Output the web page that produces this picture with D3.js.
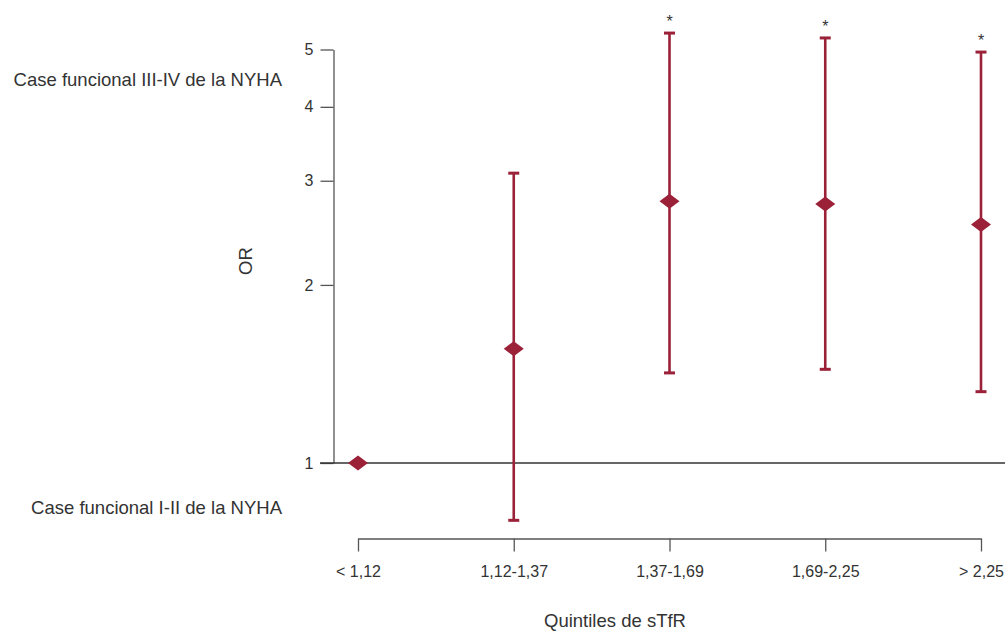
<!DOCTYPE html>
<html>
<head>
<meta charset="utf-8">
<script src="https://cdn.jsdelivr.net/npm/d3@7"></script>
<style>
  body { margin: 0; background: #fff; }
  text { font-family: "Liberation Sans", Arial, sans-serif; fill: #333; }
</style>
</head>
<body>
<div id="chart"></div>
<script>
// data
const quintiles = ["< 1,12", "1,12-1,37", "1,37-1,69", "1,69-2,25", "> 2,25"];
const orValues = [1, 1.56, 2.77, 2.74, 2.53];
const ciLow = [null, 0.80, 1.42, 1.44, 1.32];
const ciHigh = [null, 3.09, 5.33, 5.23, 4.95];
const significant = [false, false, true, true, true];
const yTicks = [1, 2, 3, 4, 5];

const width = 1005, height = 632;
const red = "#9b2139";
const axisColor = "#555";

const svg = d3.select("#chart").append("svg")
  .attr("width", width)
  .attr("height", height);

const x = d3.scalePoint().domain(quintiles).range([358, 981]);
const y = d3.scaleLog().domain([1, 5]).range([463, 49.5]);

// y axis
const yAxis = svg.append("g")
  .attr("transform", "translate(333.5,0)")
  .call(d3.axisLeft(y).tickValues(yTicks).tickFormat(d3.format("d")).tickSize(13).tickSizeOuter(0).tickPadding(7));
yAxis.selectAll("path, line").attr("stroke", axisColor).attr("stroke-width", 1.3);
yAxis.selectAll("text").style("font-size", "16px").attr("fill", "#333");

// reference line at OR = 1
svg.append("line")
  .attr("x1", 320).attr("x2", width)
  .attr("y1", y(1)).attr("y2", y(1))
  .attr("stroke", "#333").attr("stroke-width", 1.3);

// x axis
const xAxis = svg.append("g")
  .attr("transform", "translate(0,538.5)")
  .call(d3.axisBottom(x).tickSize(13).tickSizeOuter(0).tickPadding(14));
xAxis.selectAll("path, line").attr("stroke", axisColor).attr("stroke-width", 1.3);
xAxis.selectAll("text").style("font-size", "16px").attr("fill", "#333");

// error bars
const bars = svg.append("g");
quintiles.forEach((q, i) => {
  if (ciLow[i] === null) return;
  const cx = x(q);
  bars.append("line")
    .attr("x1", cx).attr("x2", cx)
    .attr("y1", y(ciLow[i])).attr("y2", y(ciHigh[i]))
    .attr("stroke", red).attr("stroke-width", 2.6);
  [ciLow[i], ciHigh[i]].forEach(v => {
    bars.append("line")
      .attr("x1", cx - 5.5).attr("x2", cx + 5.5)
      .attr("y1", y(v)).attr("y2", y(v))
      .attr("stroke", red).attr("stroke-width", 3);
  });
  if (significant[i]) {
    svg.append("text")
      .attr("x", cx).attr("y", y(ciHigh[i]) - 6)
      .attr("text-anchor", "middle")
      .style("font-size", "16px")
      .text("*");
  }
});

// diamonds
svg.append("g").selectAll("path")
  .data(quintiles)
  .join("path")
  .attr("transform", (d, i) => `translate(${x(d)},${y(orValues[i])})`)
  .attr("d", "M-10,0L0,-7.5L10,0L0,7.5Z")
  .attr("fill", red);

// labels
svg.append("text")
  .attr("transform", "translate(252,261) rotate(-90)")
  .attr("text-anchor", "middle")
  .style("font-size", "18.5px")
  .text("OR");

svg.append("text")
  .attr("x", 615).attr("y", 627)
  .attr("text-anchor", "middle")
  .style("font-size", "18.5px")
  .text("Quintiles de sTfR");

svg.append("text")
  .attr("x", 282).attr("y", 86)
  .attr("text-anchor", "end")
  .style("font-size", "18.5px")
  .text("Case funcional III-IV de la NYHA");

svg.append("text")
  .attr("x", 282).attr("y", 514)
  .attr("text-anchor", "end")
  .style("font-size", "18.5px")
  .text("Case funcional I-II de la NYHA");
</script>
</body>
</html>
